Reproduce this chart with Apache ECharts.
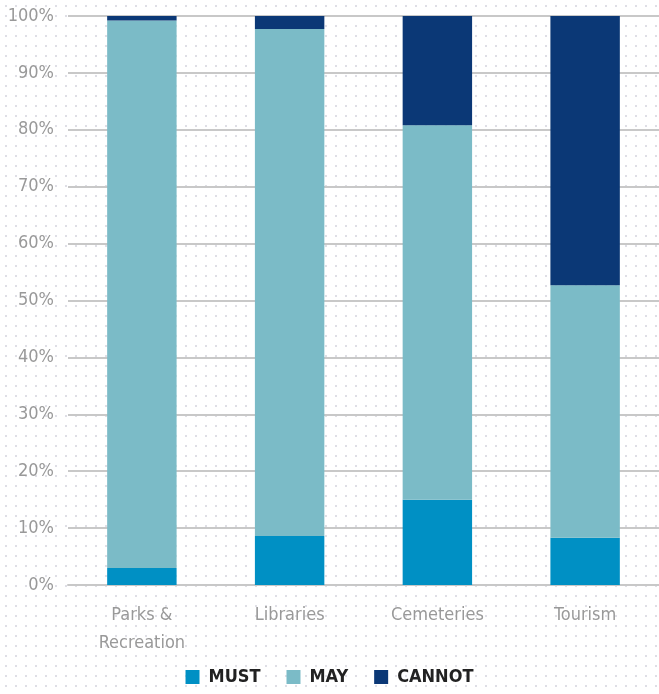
<!DOCTYPE html>
<html><head><meta charset="utf-8">
<script src="https://cdn.jsdelivr.net/npm/echarts@6/dist/echarts.min.js"></script>
<style>html,body{margin:0;padding:0;background:#fff}#c{width:659px;height:694px}</style>
</head><body><div id="c"></div>
<script>
const categories = ['Parks &\nRecreation', 'Libraries', 'Cemeteries', 'Tourism'];
const mustValues = [3.0, 8.6, 15.0, 8.3];
const mayValues = [96.2, 89.1, 65.8, 44.4];
const cannotValues = [0.8, 2.3, 19.2, 47.3];
const yTicks = [0, 10, 20, 30, 40, 50, 60, 70, 80, 90, 100];

const FONT = "'DejaVu Sans Condensed','Liberation Sans Narrow',sans-serif";
const pat = document.createElement('canvas');
pat.width = 10; pat.height = 10;
const pctx = pat.getContext('2d');
pctx.fillStyle = '#fff'; pctx.fillRect(0,0,10,10);
pctx.fillStyle = '#dedee6'; pctx.fillRect(5,5,2,2);

const chart = echarts.init(document.getElementById('c'));
chart.setOption({
  backgroundColor: {image: pat, repeat: 'repeat'},
  animation: false,
  grid: {left: 68, right: 0, top: 16, bottom: 109, containLabel: false},
  legend: {
    bottom: 3, left: 'center', itemWidth: 14, itemHeight: 14, itemGap: 26,
    icon: 'rect',
    textStyle: {fontFamily: FONT, fontSize: 18, fontWeight: 'bold', color: '#222', padding: [0, 0, 0, 4]},
    data: ['MUST', 'MAY', 'CANNOT']
  },
  xAxis: {
    type: 'category', data: categories,
    axisLine: {lineStyle: {color: '#c8c8c8', width: 2}},
    axisTick: {show: false},
    axisLabel: {fontFamily: FONT, fontSize: 18, color: '#999', margin: 16, lineHeight: 28}
  },
  yAxis: {
    type: 'value', min: 0, max: 100, interval: 10,
    axisLine: {show: false}, axisTick: {show: false},
    splitLine: {lineStyle: {color: '#c8c8c8', width: 2}},
    axisLabel: {fontFamily: FONT, fontSize: 18, color: '#999', margin: 14,
      formatter: v => yTicks.includes(v) ? v + '%' : ''}
  },
  series: [
    {name: 'MUST', type: 'bar', stack: 's', barWidth: '47%', data: mustValues, itemStyle: {color: '#0090c4'}},
    {name: 'MAY', type: 'bar', stack: 's', data: mayValues, itemStyle: {color: '#7bbbc7'}},
    {name: 'CANNOT', type: 'bar', stack: 's', data: cannotValues, itemStyle: {color: '#0b3876'}}
  ]
});
</script></body></html>
